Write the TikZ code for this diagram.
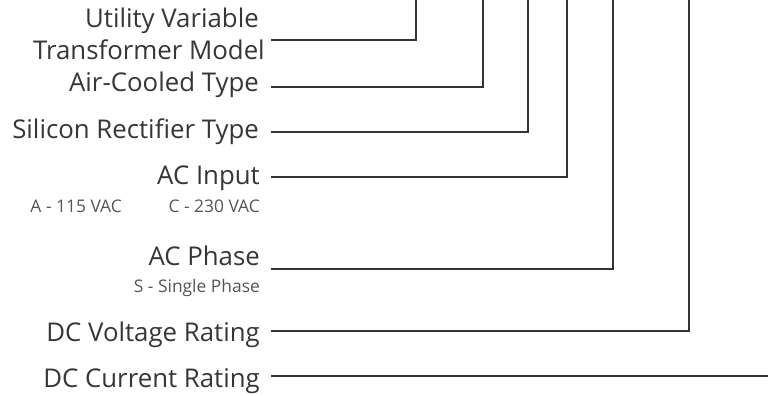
\documentclass[tikz,border=0pt]{standalone}
\usepackage{fontspec}
\setmainfont{Open Sans}
\definecolor{ink}{HTML}{333333}
\definecolor{txt}{HTML}{363636}
\definecolor{subtxt}{HTML}{555555}
\begin{document}
\begin{tikzpicture}[x=1pt,y=1pt,
  lbl/.style={anchor=base east,inner sep=0pt,text=txt,font=\fontsize{25.8}{30}\selectfont},
  sub/.style={anchor=base east,inner sep=0pt,text=subtxt,font=\fontsize{17.4}{20}\selectfont},
  conn/.style={draw=ink,line width=2pt}]
\useasboundingbox (0,0) rectangle (768,-396);
\node[lbl] (uv) at (259,-27.3) {Utility Variable};
\node[lbl] (tm) at (265,-59.3) {Transformer Model};
\node[lbl] (ac) at (259,-91.7) {Air-Cooled Type};
\node[lbl] (sr) at (259,-138.7) {Silicon Rectifier Type};
\node[lbl] (ai) at (260,-184.3) {AC Input};
\node[sub] (a115) at (122,-212.3) {A - 115 VAC};
\node[sub] (c230) at (260,-212.3) {C - 230 VAC};
\node[lbl] (ap) at (260,-265.7) {AC Phase};
\node[sub] (sp) at (260,-292.7) {S - Single Phase};
\node[lbl] (dv) at (260,-341.7) {DC Voltage Rating};
\node[lbl] (dc) at (260,-387) {DC Current Rating};
% connector ends
\coordinate (s1) at (271,-40);   \coordinate (t1) at (416,0);
\coordinate (s2) at (271,-87);   \coordinate (t2) at (482.7,0);
\coordinate (s3) at (271,-132);  \coordinate (t3) at (527.7,0);
\coordinate (s4) at (270.5,-177);\coordinate (t4) at (567,0);
\coordinate (s5) at (270.5,-269);\coordinate (t5) at (613.3,0);
\coordinate (s6) at (270.5,-331);\coordinate (t6) at (689,0);
\coordinate (s7) at (270.5,-376);\coordinate (t7) at (768,-376);
\draw[conn] (s1) -| (t1);
\draw[conn] (s2) -| (t2);
\draw[conn] (s3) -| (t3);
\draw[conn] (s4) -| (t4);
\draw[conn] (s5) -| (t5);
\draw[conn] (s6) -| (t6);
\draw[conn] (s7) -- (t7);
\end{tikzpicture}
\end{document}
